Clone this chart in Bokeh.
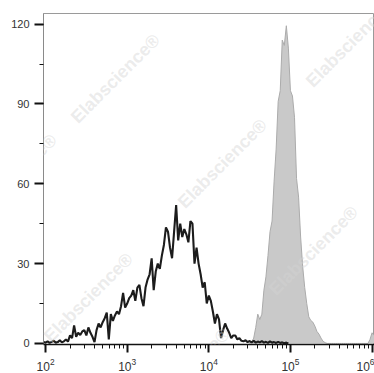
import numpy as np
from bokeh.plotting import figure
from bokeh.models import Range1d, SingleIntervalTicker, Label
from bokeh.embed import file_html
from bokeh.resources import INLINE

# ---- data ----
bin_step = 0.025            # log10 width of one channel
black_start = 1.975         # log10 of first black channel
black_counts = [
    0.5, 0.3, 0.8, 0.2, 0.6, 1.0, 0.3, 0.5, 1.2, 0.4,
    0.8, 1.5, 0.7, 3.0, 2.0, 6.8, 2.5, 4.0, 3.2, 4.5,
    5.0, 3.0, 6.0, 4.0, 2.5, 0.5, 5.0, 7.5, 6.0, 8.0,
    9.5, 11.6, 1.5, 11.0, 8.5, 10.5, 12.0, 11.0, 14.0, 19.0,
    13.5, 15.0, 17.0, 18.0, 20.0, 16.0, 21.0, 22.0, 17.0, 14.0,
    21.0, 24.0, 26.0, 32.0, 20.0, 27.0, 30.0, 28.0, 33.0, 37.0,
    43.6, 42.0, 36.0, 32.0, 42.0, 52.0, 38.7, 45.0, 40.0, 43.0,
    41.0, 38.0, 46.0, 45.0, 30.0, 36.0, 30.0, 26.0, 21.0, 23.0,
    15.0, 18.0, 16.0, 12.0, 7.5, 11.0, 9.0, 2.0, 5.0, 7.5,
    5.6, 4.0, 2.0, 3.0, 3.0, 1.5, 2.0, 1.0, 0.8, 1.2,
    0.5, 0.9, 0.4, 1.0, 0.3, 0.7, 0.4, 0.9, 0.3, 0.6,
    0.2, 0.8, 0.3, 0.5, 0.2, 0.6, 0.2, 0.4, 0.1, 0.3,
    0.0,
]
gray_start = 4.5            # log10 of first gray channel
gray_counts = [
    0.0, 0.5, 2.0, 6.0, 11.0, 9.0, 11.0, 20.0, 25.0, 33.0,
    42.0, 46.0, 61.0, 73.0, 91.0, 95.0, 114.0, 112.0, 119.4, 111.0,
    95.0, 93.0, 85.0, 62.0, 55.0, 40.0, 29.0, 21.0, 15.0, 10.0,
    8.6, 8.0, 6.5, 4.5, 3.5, 2.0, 0.8, 0.3, 0.0, 0.0,
    0.0, 0.0, 0.0, 0.0, 0.0, 0.0, 0.0, 0.0, 0.0, 0.0,
    0.0, 0.0, 0.0, 0.0, 0.0, 0.0, 0.0, 0.0, 0.0, 1.5,
    4.0, 3.0,
]
y_tick_interval = 30
watermark_text = "Elabscience\u00ae"

# ---- figure ----
p = figure(width=374, height=373, x_axis_type="log",
           x_range=Range1d(10 ** 1.975, 10 ** 6.03),
           y_range=Range1d(-0.4, 124),
           output_backend="svg", toolbar_location=None,
           min_border_left=43, min_border_right=0,
           min_border_top=13, min_border_bottom=29)
p.background_fill_color = "white"
p.border_fill_color = "white"
p.outline_line_color = "#9a9a9a"
p.outline_line_width = 1
p.grid.visible = False

bx = 10 ** (black_start + bin_step * np.arange(len(black_counts)))
gx = 10 ** (gray_start + bin_step * np.arange(len(gray_counts)))

p.varea(x=gx, y1=np.zeros(len(gray_counts)), y2=gray_counts,
        fill_color="#c9c9c9")
p.line(x=gx, y=gray_counts, line_color="#ababab", line_width=1)
p.line(x=bx, y=black_counts, line_color="#1c1c1c", line_width=2.1)

# y axis
ya = p.yaxis[0]
ya.ticker = SingleIntervalTicker(interval=y_tick_interval, num_minor_ticks=2)
ya.axis_line_color = "#8a8a8a"
ya.axis_line_width = 1
ya.major_tick_in = 0
ya.major_tick_out = 9
ya.major_tick_line_width = 2
ya.major_tick_line_color = "#111111"
ya.minor_tick_in = 0
ya.minor_tick_out = 4
ya.minor_tick_line_width = 1
ya.minor_tick_line_color = "#111111"
ya.major_label_text_font = "Liberation Sans"
ya.major_label_text_font_size = "11px"
ya.major_label_text_color = "#333333"
ya.major_label_standoff = 5

# x axis
xa = p.xaxis[0]
xa.axis_line_color = "#111111"
xa.axis_line_width = 1.5
xa.major_tick_in = 0
xa.major_tick_out = 8
xa.major_tick_line_width = 2
xa.major_tick_line_color = "#111111"
xa.minor_tick_in = 0
xa.minor_tick_out = 4
xa.minor_tick_line_width = 1
xa.minor_tick_line_color = "#111111"
xa.major_label_text_font = "Liberation Sans"
xa.major_label_text_font_size = "12px"
xa.major_label_text_color = "#333333"
xa.major_label_standoff = 5

# watermarks (screen coords relative to the frame's bottom-left)
for sx, sy in [(72, 266), (179, 181), (270, 94), (307, 302),
               (45, 47), (-31, 166), (-43, 339), (142, -28)]:
    p.add_layout(Label(x=sx, y=sy, x_units="screen", y_units="screen",
                       text=watermark_text, angle=np.pi / 4,
                       text_align="center", text_baseline="middle",
                       text_font="Liberation Sans", text_font_style="bold",
                       text_font_size="18px", text_color="#d4d4d4",
                       text_alpha=0.45))

open("out.html", "w").write(file_html(p, INLINE))
